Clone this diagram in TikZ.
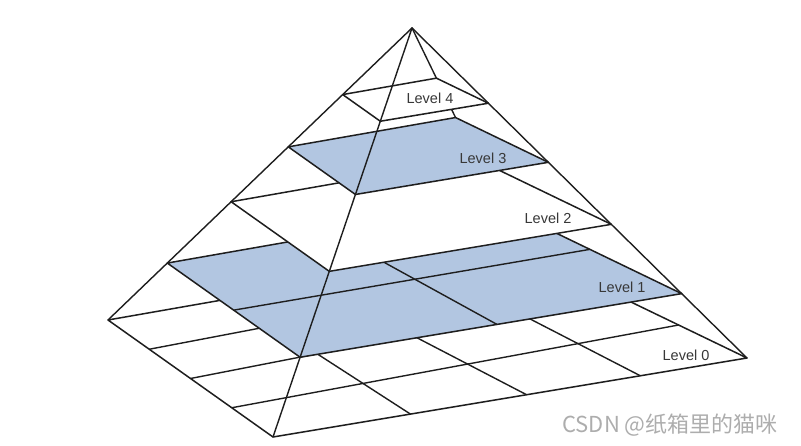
\documentclass[tikz,border=0pt]{standalone}
\usepackage{fontspec}
\setmainfont{Liberation Sans}
\newfontfamily\cjkfont{Noto Sans CJK SC}
\usetikzlibrary{calc}
\definecolor{lvblue}{RGB}{178,198,225}
\definecolor{ink}{RGB}{30,30,30}
\tikzset{
  plane/.style ={draw=ink,fill=white,line width=1.5pt,line join=round},
  hplane/.style={plane,fill=lvblue},
  edge/.style  ={draw=ink,line width=1.4pt,line cap=round},
  cell/.style  ={draw=ink,line width=1.4pt},
  lvl/.style   ={font=\fontsize{14.5}{16}\selectfont,text=black!78,inner sep=1pt},
  wmark/.style ={font=\cjkfont\fontsize{22}{24}\selectfont,text=black!32},
}

\begin{document}
\begin{tikzpicture}[x=1pt,y=-1pt]
  \useasboundingbox (0,0) rectangle (801,446);
  % apex and corners of the base
  \coordinate (A)  at (412,28);
  \coordinate (L0) at (108,320);
  \coordinate (F0) at (273,437);
  \coordinate (R0) at (747,358);
  \coordinate (B0) at (519,248);
  % corners of the upper levels, on the edges to the apex
  \foreach \k/\fr in {1/0.805,2/0.595,3/0.407,4/0.228}
    \foreach \cn in {L,F,R,B}
      \coordinate (\cn\k) at ($(A)!\fr!(\cn0)$);

  % level 0: 4x4 cells
  \draw[plane] (L0) -- (F0) -- (R0) -- (B0) -- cycle;
  \foreach \s/\e in {0.25/0.2,0.5/0.43,0.75/0.7}
    \draw[cell] ($(L0)!\s!(F0)$) -- ($(B0)!\e!(R0)$);
  \foreach \s/\e in {0.29/0.3,0.535/0.5,0.775/0.77}
    \draw[cell] ($(F0)!\s!(R0)$) -- ($(L0)!\e!(B0)$);
  \foreach \cn in {L,F,R,B} \draw[edge] (\cn0) -- (\cn1);

  % level 1: 2x2 cells
  \draw[hplane] (L1) -- (F1) -- (R1) -- (B1) -- cycle;
  \draw[cell] ($(L1)!.5!(F1)$) -- ($(B1)!.5!(R1)$);
  \draw[cell] ($(F1)!.516!(R1)$) -- ($(L1)!.5!(B1)$);
  \foreach \cn in {L,F,R,B} \draw[edge] (\cn1) -- (\cn2);

  % level 2
  \draw[plane] (L2) -- (F2) -- (R2) -- (B2) -- cycle;
  \foreach \cn in {L,F,R,B} \draw[edge] (\cn2) -- (\cn3);

  % level 3
  \draw[hplane] (L3) -- (F3) -- (R3) -- (B3) -- cycle;
  \foreach \cn in {L,F,R,B} \draw[edge] (\cn3) -- (\cn4);

  % level 4
  \draw[plane] (L4) -- (F4) -- (R4) -- (B4) -- cycle;
  \foreach \cn in {L,F,R,B} \draw[edge] (\cn4) -- (A);

  % labels
  \node[lvl] (n4) at (430,98)  {Level 4};
  \node[lvl] (n3) at (483,158) {Level 3};
  \node[lvl] (n2) at (548,218) {Level 2};
  \node[lvl] (n1) at (622,287) {Level 1};
  \node[lvl] (n0) at (686,355) {Level 0};
  \node[wmark] (wm) at (670,425) {CSDN @纸箱里的猫咪};
\end{tikzpicture}
\end{document}
